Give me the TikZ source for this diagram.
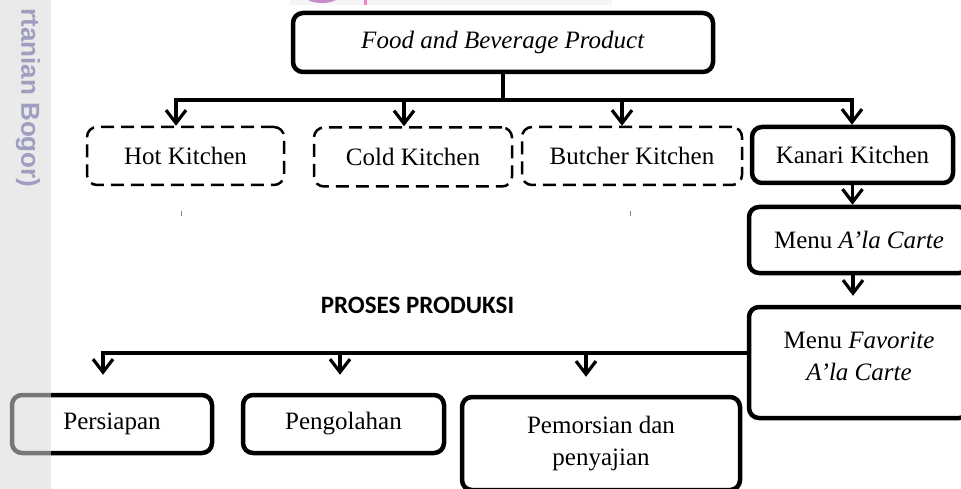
\documentclass[tikz,border=0pt]{standalone}
\usepackage{fontspec}
\setmainfont{Liberation Serif}
\newfontfamily\procfont{Carlito}
\newfontfamily\markfont{Liberation Sans}
\usetikzlibrary{arrows.meta}
\definecolor{stripgray}{rgb}{0.855,0.855,0.855}
\definecolor{markblue}{RGB}{158,158,192}

\begin{document}
\begin{tikzpicture}[x=1pt,y=-1pt,
        every node/.style={font=\fontsize{25}{32}\selectfont},
        solidbox/.style={draw,line width=4.5pt,rounded corners=10pt,align=center},
        dashbox/.style={draw,line width=2.5pt,rounded corners=10pt,dash pattern=on 13pt off 7pt},
        link/.style={line width=3.2pt},
        arr/.style={link,-{Straight Barb[length=13pt,width=20pt]}},
        twoarr/.style={link,{Straight Barb[length=13pt,width=20pt]}-{Straight Barb[length=13pt,width=20pt]}}]
        \clip (0,0) rectangle (961,489);
        \fill[white] (0,0) rectangle (961,489);
        % scan remains at the top
        \fill[gray!8] (290,0) rectangle (612,5);
        \fill[violet!45] (322,-4) ellipse (17pt and 7pt);
        \fill[magenta!50] (364,0) rectangle (367,5);

        \node[solidbox,minimum width=420pt,minimum height=59pt] (fnb) at (503,42.5) {\textit{Food and Beverage Product}};
        \node[dashbox,minimum width=197pt,minimum height=58pt] (hot) at (185.5,156) {Hot Kitchen};
        \node[dashbox,minimum width=198pt,minimum height=59pt] (cold) at (413,157) {Cold Kitchen};
        \node[dashbox,minimum width=220pt,minimum height=58pt] (butcher) at (632,156) {Butcher Kitchen};
        \node[solidbox,minimum width=201pt,minimum height=56pt] (kanari) at (852.5,155) {Kanari Kitchen};
        \node[solidbox,minimum width=220pt,minimum height=66pt] (alacarte) at (859,240) {Menu \textit{A’la Carte}};
        \node[solidbox,minimum width=220pt,minimum height=111pt,text depth=13pt] (favorite) at (859,362.5) {Menu \textit{Favorite}\\\textit{A’la Carte}};

        \node[font=\procfont\bfseries\fontsize{25}{30}\selectfont] (proses) at (417.5,305) {PROSES PRODUKSI};

        \node[solidbox,minimum width=200pt,minimum height=58pt] (persiapan) at (112,424) {Persiapan};
        \node[solidbox,minimum width=201pt,minimum height=58pt] (pengolahan) at (343.5,424) {Pengolahan};
        \node[solidbox,minimum width=278pt,minimum height=93pt] (pemorsian) at (601,443.5) {Pemorsian dan\\penyajian};

        % top level split
        \coordinate (hub) at (503,100);
        \draw[link] (fnb.south) -- (hub);
        \foreach \n/\dx in {hot/-9.5,cold/-9,butcher/-10,kanari/-0.5}
            \coordinate (\n-in) at ([xshift=\dx pt]\n.north);
        \draw[twoarr] (hot-in) -- (hot-in |- hub) -- (kanari-in |- hub) -- (kanari-in);
        \draw[arr] (cold-in |- hub) -- (cold-in);
        \draw[arr] (butcher-in |- hub) -- (butcher-in);

        \draw[arr] (kanari.south) -- (kanari.south |- alacarte.north);
        \draw[arr] ([xshift=-6pt]alacarte.south) -- ([xshift=-6pt,yshift=9pt]favorite.north);

        % production steps
        \coordinate (split) at ([yshift=9.5pt]favorite.west);
        \foreach \n/\dx in {persiapan/-9,pengolahan/-3.5,pemorsian/-15}
            \coordinate (\n-in) at ([xshift=\dx pt,yshift=18pt]\n.north);
        \draw[arr] (split) -- (persiapan-in |- split) -- (persiapan-in);
        \draw[arr] (pengolahan-in |- split) -- (pengolahan-in);
        \draw[arr] (pemorsian-in |- split) -- (pemorsian-in);

        \draw[gray,line width=1pt] (181,211) -- (181,216);
        \draw[gray,line width=1pt] (630,211) -- (630,216);

        % page margin strip
        \fill[stripgray,fill opacity=0.55] (0,0) rectangle (51,489);
        \node[markblue,font=\markfont\bfseries\fontsize{26}{30}\selectfont,rotate=-90,anchor=east] (mark) at (28,191) {rtanian Bogor)};
    \end{tikzpicture}
\end{document}
